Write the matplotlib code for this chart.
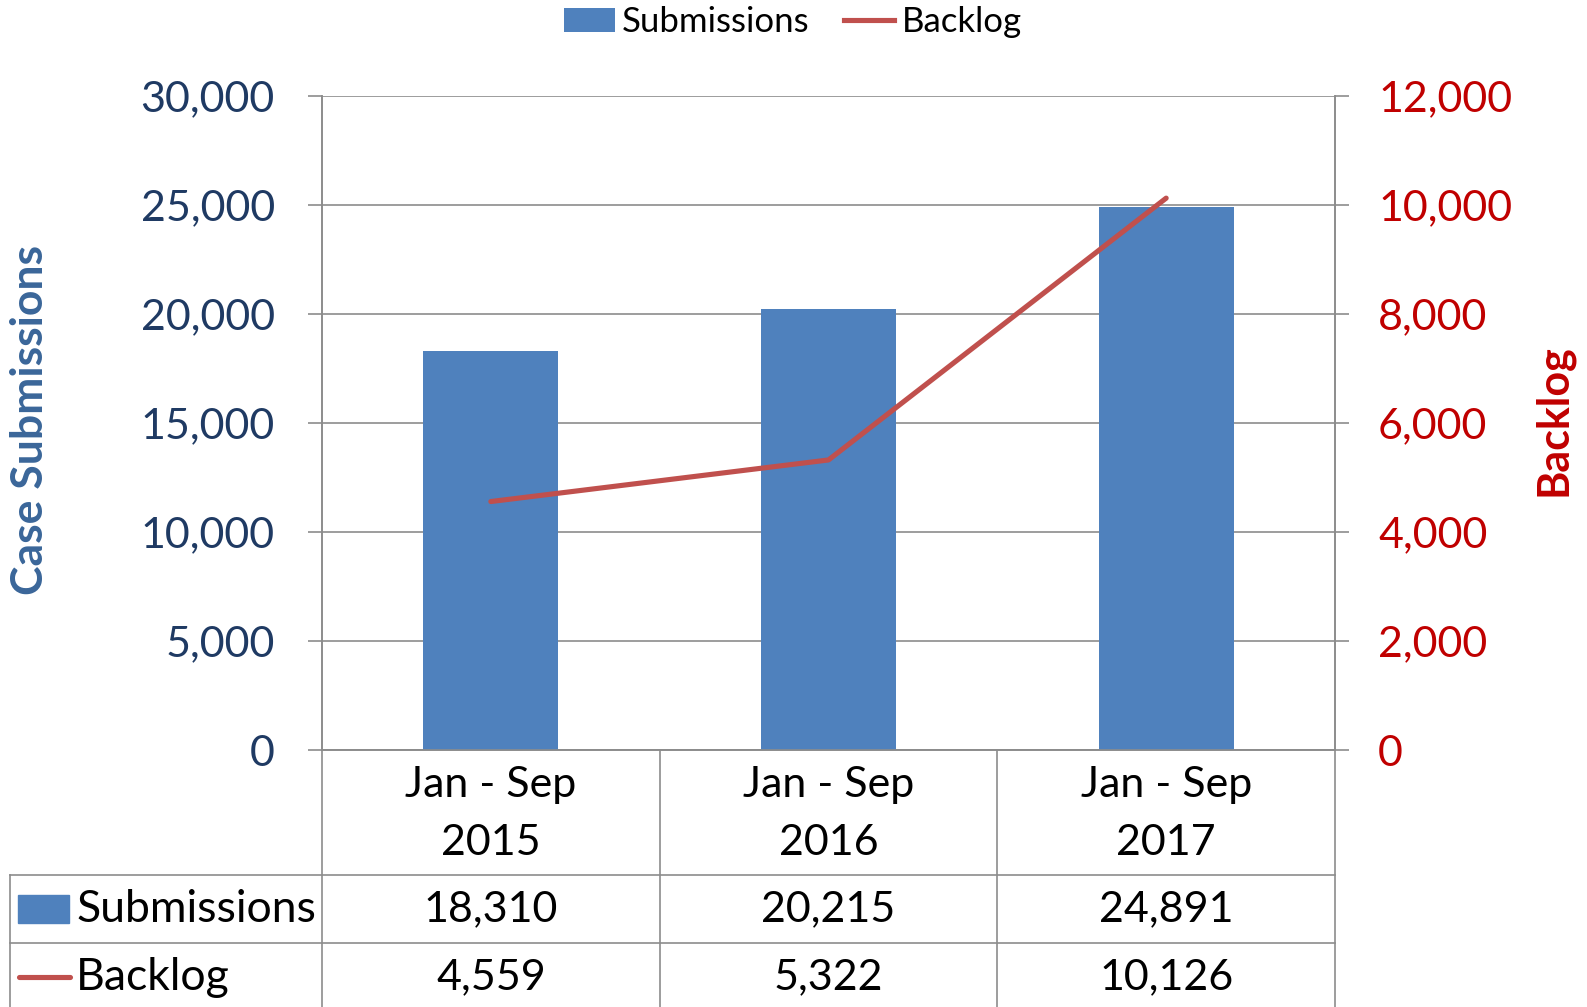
import matplotlib
matplotlib.use("Agg")
import matplotlib.pyplot as plt
from matplotlib.patches import Patch, Rectangle
from matplotlib.lines import Line2D
from matplotlib.ticker import FuncFormatter

categories = ["Jan - Sep\n2015", "Jan - Sep\n2016", "Jan - Sep\n2017"]
submissions = [18310, 20215, 24891]
backlog = [4559, 5322, 10126]
left_ticks = [0, 5000, 10000, 15000, 20000, 25000, 30000]
right_ticks = [0, 2000, 4000, 6000, 8000, 10000, 12000]

FONT = "Lato"
plt.rcParams['font.family'] = [FONT, 'DejaVu Sans']

BAR = "#4F81BD"
LINE = "#C0504D"
GRID = "#8C8C8C"

W, H = 1587, 1007
fig = plt.figure(figsize=(W / 100, H / 100), dpi=100)
L, R, T, B = 322, 1335, 96, 750
ax = fig.add_axes([L / W, 1 - B / H, (R - L) / W, (B - T) / H])
ax2 = ax.twinx()

x = list(range(len(categories)))
ax.bar(x, submissions, width=0.4, color=BAR, zorder=3)
ax2.plot(x, backlog, color=LINE, lw=3.7, solid_capstyle='round', zorder=4)

ax.set_xlim(-0.5, 2.5)
ax.set_ylim(0, 30000)
ax2.set_ylim(0, 12000)
ax.set_yticks(left_ticks)
ax2.set_yticks(right_ticks)
fmt = FuncFormatter(lambda v, p: f"{int(v):,}")
ax.yaxis.set_major_formatter(fmt)
ax2.yaxis.set_major_formatter(fmt)
ax.set_xticks([])

ax.grid(axis='y', color=GRID, lw=1.2, zorder=0)
ax.set_axisbelow(True)
for a in (ax, ax2):
    for s in a.spines.values():
        s.set_color(GRID)
        s.set_linewidth(1.2)
    a.spines['top'].set_visible(False)
ax2.set_zorder(ax.get_zorder() + 1)
ax2.patch.set_visible(False)

ax.tick_params(axis='y', length=10, width=1.2, color=GRID, pad=24,
               labelsize=31, labelcolor="#1F3A63")
ax2.tick_params(axis='y', length=10, width=1.2, color=GRID, pad=21,
                labelsize=31, labelcolor="#C00000")

fig.text(30 / W, 1 - 420 / H, "Case Submissions", rotation=90, ha='center', va='center',
         fontsize=32, fontweight='bold', color="#3A6699")
fig.text(1553 / W, 1 - 420 / H, "Backlog", rotation=90, ha='center', va='center',
         fontsize=31, fontweight='bold', color="#C00000")

# data table
xt = ax.get_xaxis_transform()
ppx = (B - T)
def yfrac(py):
    return (B - py) / ppx
def xfrac(px):
    return (px - L) / (R - L)

y_cat_bot = yfrac(875)
y_row2 = yfrac(943)
y_bottom = yfrac(1010)
for xb in [-0.5, 0.5, 1.5, 2.5]:
    ax.plot([xb, xb], [0, y_bottom], transform=xt, color=GRID, lw=1.2, clip_on=False)
for yy in [y_cat_bot, y_row2]:
    ax.plot([xfrac(10), 1], [yy, yy], transform=ax.transAxes, color=GRID, lw=1.2, clip_on=False)
ax.plot([xfrac(10), xfrac(10)], [y_cat_bot, y_bottom], transform=ax.transAxes,
        color=GRID, lw=1.2, clip_on=False)

for i, c in enumerate(categories):
    l1, l2 = c.split("\n")
    ax.text(i, yfrac(785), l1, transform=xt, ha='center', va='center', fontsize=31, color='black')
    ax.text(i, yfrac(843), l2, transform=xt, ha='center', va='center', fontsize=31, color='black')
    ax.text(i, yfrac(909), f"{submissions[i]:,}", transform=xt, ha='center', va='center',
            fontsize=31, color='black')
    ax.text(i, yfrac(977), f"{backlog[i]:,}", transform=xt, ha='center', va='center',
            fontsize=31, color='black')

# row labels with keys
fig.add_artist(Rectangle((18 / W, 1 - 923 / H), 51 / W, 28 / H, transform=fig.transFigure,
                         color=BAR))
fig.text(76 / W, 1 - 909 / H, "Submissions", ha='left', va='center', fontsize=32, color='black')
fig.add_artist(Line2D([19 / W, 70 / W], [1 - 977 / H, 1 - 977 / H], transform=fig.transFigure,
                      color=LINE, lw=3.7, solid_capstyle='round'))
fig.text(76 / W, 1 - 977 / H, "Backlog", ha='left', va='center', fontsize=32, color='black')

# legend
handles = [Patch(facecolor=BAR, edgecolor='none'), Line2D([], [], color=LINE, lw=3.7)]
fig.legend(handles, ["Submissions", "Backlog"], loc='center',
           bbox_to_anchor=(793 / W, 1 - 22 / H), ncol=2, frameon=False, fontsize=25,
           handlelength=1.45, handleheight=0.7, handletextpad=0.2, columnspacing=1.0,
           borderpad=0, borderaxespad=0)

fig.savefig("out.png", dpi=100)
